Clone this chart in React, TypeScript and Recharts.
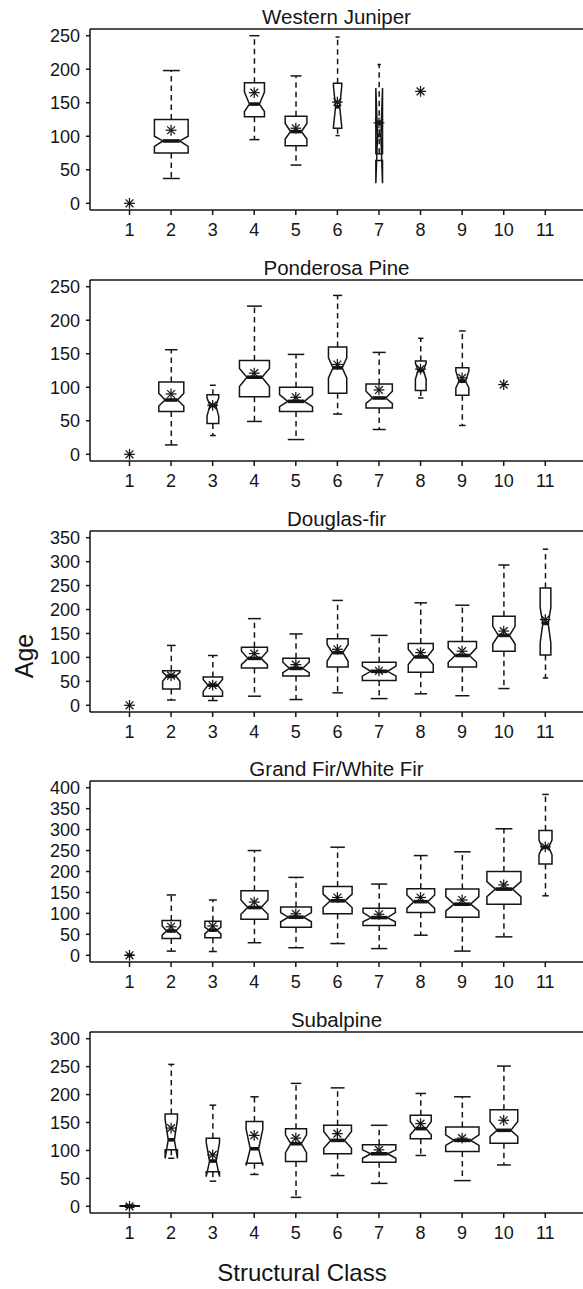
import React from 'react';
import { ComposedChart, Bar, Scatter, XAxis, YAxis, ReferenceLine } from 'recharts';

// ---------- shared axis data ----------
const CLASS_TICKS = [1, 2, 3, 4, 5, 6, 7, 8, 9, 10, 11];
const X_DOMAIN = [0.05, 11.907];

// ---------- Western Juniper ----------
const WJ_CLASS = [2, 4, 5, 6, 7];
// [low whisker, Q1, median, Q3, high whisker]
const WJ_STATS = [
  [37, 75, 93, 125, 198],
  [95, 129, 148, 180, 250],
  [57, 86, 107, 130, 190],
  [101, 112, 144, 179, 248],
  [64, 64, 101, 74, 207],
];
const WJ_NOTCH = [[85, 100], [137, 166], [96, 119], [114, 175], [30, 172]];
const WJ_MEAN_CLASS = [1, 2, 4, 5, 6, 7, 8];
const WJ_MEAN = [0, 109, 165, 112, 151, 120, 167];
const WJ_TICKS = [0, 50, 100, 150, 200, 250];

// ---------- Ponderosa Pine ----------
const PP_CLASS = [2, 3, 4, 5, 6, 7, 8, 9];
const PP_STATS = [
  [14, 64, 81, 108, 156],
  [28, 46, 73, 89, 103],
  [49, 86, 115, 140, 221],
  [22, 64, 79, 100, 149],
  [60, 91, 129, 160, 237],
  [37, 69, 84, 105, 152],
  [84, 95, 125, 139, 173],
  [43, 88, 109, 129, 184],
];
const PP_NOTCH = [[72, 91], [57, 84], [101, 128], [71, 89], [114, 144], [76, 94], [112, 136], [99, 124]];
const PP_MEAN_CLASS = [1, 2, 3, 4, 5, 6, 7, 8, 9, 10];
const PP_MEAN = [0, 90, 73, 121, 85, 134, 96, 127, 114, 104];
const PP_TICKS = [0, 50, 100, 150, 200, 250];

// ---------- Douglas-fir ----------
const DF_CLASS = [2, 3, 4, 5, 6, 7, 8, 9, 10, 11];
const DF_STATS = [
  [11, 34, 61, 72, 125],
  [10, 19, 42, 59, 104],
  [19, 78, 98, 121, 181],
  [12, 61, 77, 98, 149],
  [26, 80, 110, 139, 219],
  [14, 52, 71, 90, 146],
  [24, 69, 101, 129, 214],
  [20, 80, 104, 133, 209],
  [35, 113, 146, 186, 293],
  [57, 105, 171, 245, 326],
];
const DF_NOTCH = [[50, 69], [29, 54], [85, 113], [68, 90], [92, 127], [61, 82], [85, 117], [90, 120], [128, 165], [130, 204]];
const DF_MEAN_CLASS = [1, 2, 3, 4, 5, 6, 7, 8, 9, 10, 11];
const DF_MEAN = [0, 62, 42, 108, 85, 117, 72, 110, 113, 155, 179];
const DF_TICKS = [0, 50, 100, 150, 200, 250, 300, 350];

// ---------- Grand Fir/White Fir ----------
const GF_CLASS = [1, 2, 3, 4, 5, 6, 7, 8, 9, 10, 11];
const GF_STATS = [
  [0, 0, 0, 0, 1],
  [10, 40, 58, 83, 144],
  [9, 42, 60, 81, 132],
  [30, 86, 114, 154, 250],
  [18, 67, 91, 115, 186],
  [28, 99, 130, 164, 258],
  [16, 71, 90, 112, 170],
  [48, 102, 128, 159, 238],
  [10, 91, 122, 158, 247],
  [44, 122, 158, 200, 302],
  [142, 218, 258, 298, 384],
];
const GF_NOTCH = [[0, 0], [48, 70], [51, 67], [98, 132], [80, 102], [114, 146], [80, 102], [112, 144], [106, 140], [140, 176], [240, 275]];
const GF_MEAN_CLASS = [1, 2, 3, 4, 5, 6, 7, 8, 9, 10, 11];
const GF_MEAN = [0, 68, 70, 127, 99, 138, 98, 138, 132, 168, 259];
const GF_TICKS = [0, 50, 100, 150, 200, 250, 300, 350, 400];

// ---------- Subalpine ----------
const SA_CLASS = [1, 2, 3, 4, 5, 6, 7, 8, 9, 10];
const SA_STATS = [
  [0, 0, 0, 1, 2],
  [86, 101, 119, 165, 254],
  [45, 62, 81, 122, 181],
  [57, 77, 103, 152, 196],
  [16, 80, 112, 139, 220],
  [55, 94, 118, 145, 212],
  [41, 79, 94, 110, 145],
  [91, 121, 139, 163, 202],
  [46, 98, 118, 142, 196],
  [74, 113, 136, 173, 251],
];
const SA_NOTCH = [[0, 0], [86, 155], [53, 114], [73, 138], [96, 128], [104, 134], [86, 101], [128, 152], [109, 128], [125, 152]];
const SA_MEAN_CLASS = [1, 2, 3, 4, 5, 6, 7, 8, 9, 10];
const SA_MEAN = [0, 140, 92, 127, 122, 130, 101, 148, 122, 154];
const SA_TICKS = [0, 50, 100, 150, 200, 250, 300];

// ---------- styles (box widths in px, varying with sample size) ----------
const WJ_BOX_PX = [33.7, 20, 21.7, 8.3, 6.7];
const PP_BOX_PX = [25, 11.7, 30, 33, 18.3, 26.3, 10.7, 13];
const DF_BOX_PX = [17.3, 19.3, 26, 26.3, 21, 33.7, 25, 28.3, 22.3, 10.7];
const GF_BOX_PX = [9, 18.3, 16, 27, 30.7, 29, 32.3, 27.7, 33, 34, 13];
const SA_BOX_PX = [19, 12.3, 13.3, 16.7, 21, 27.7, 33.3, 21, 33.3, 27.7];

const FONT = '"Liberation Sans", Arial, Helvetica, sans-serif';
const INK = '#151515';
const TICK_FS = 18;
const LW = 1.5;

const PANELS = [
  { title: 'Western Juniper', cls: WJ_CLASS, stats: WJ_STATS, notch: WJ_NOTCH, meanCls: WJ_MEAN_CLASS, mean: WJ_MEAN, box: WJ_BOX_PX, ticks: WJ_TICKS, domain: [-10, 260], top: 29 },
  { title: 'Ponderosa Pine', cls: PP_CLASS, stats: PP_STATS, notch: PP_NOTCH, meanCls: PP_MEAN_CLASS, mean: PP_MEAN, box: PP_BOX_PX, ticks: PP_TICKS, domain: [-10, 260], top: 280 },
  { title: 'Douglas-fir', cls: DF_CLASS, stats: DF_STATS, notch: DF_NOTCH, meanCls: DF_MEAN_CLASS, mean: DF_MEAN, box: DF_BOX_PX, ticks: DF_TICKS, domain: [-14, 364], top: 531 },
  { title: 'Grand Fir/White Fir', cls: GF_CLASS, stats: GF_STATS, notch: GF_NOTCH, meanCls: GF_MEAN_CLASS, mean: GF_MEAN, box: GF_BOX_PX, ticks: GF_TICKS, domain: [-16, 416], top: 781 },
  { title: 'Subalpine', cls: SA_CLASS, stats: SA_STATS, notch: SA_NOTCH, meanCls: SA_MEAN_CLASS, mean: SA_MEAN, box: SA_BOX_PX, ticks: SA_TICKS, domain: [-12, 312], top: 1032 },
];

const MT = 35;
const PLOT_H = 181;
const XAX_H = 30;
const MB = 10;
const CH = MT + PLOT_H + XAX_H + MB;

function BoxShape(props: any) {
  const { x, y, width, height, payload } = props;
  if (x == null || y == null || !payload) return null;
  const cx = x + width / 2;
  const top = Math.min(y, y + height);
  const bot = Math.max(y, y + height);
  const { low, high, q1, med, q3, nlo, nhi, w } = payload;
  const py = (v: number) => (high === low ? top : top + ((high - v) / (high - low)) * (bot - top));
  const hw = w / 2;
  const nf = 0.5;
  const sw = hw * 0.5;
  const pts = [
    [cx - hw, py(q1)], [cx + hw, py(q1)], [cx + hw, py(nlo)], [cx + hw * nf, py(med)], [cx + hw, py(nhi)],
    [cx + hw, py(q3)], [cx - hw, py(q3)], [cx - hw, py(nhi)], [cx - hw * nf, py(med)], [cx - hw, py(nlo)],
  ].map((p) => p.join(',')).join(' ');
  return (
    <g>
      {high > q3 && <line x1={cx} x2={cx} y1={py(q3)} y2={py(high)} stroke={INK} strokeWidth={LW} strokeDasharray="5.5 4" />}
      {low < q1 && <line x1={cx} x2={cx} y1={py(q1)} y2={py(low)} stroke={INK} strokeWidth={LW} strokeDasharray="5.5 4" />}
      {high > q3 && <line x1={cx - sw} x2={cx + sw} y1={py(high)} y2={py(high)} stroke={INK} strokeWidth={LW} />}
      {low < q1 && <line x1={cx - sw} x2={cx + sw} y1={py(low)} y2={py(low)} stroke={INK} strokeWidth={LW} />}
      <polygon points={pts} fill="none" stroke={INK} strokeWidth={LW} strokeLinejoin="miter" />
      <line x1={cx - hw * nf} x2={cx + hw * nf} y1={py(med)} y2={py(med)} stroke={INK} strokeWidth={3.6} />
    </g>
  );
}

function Asterisk(props: any) {
  const { cx, cy } = props;
  if (cx == null || cy == null) return null;
  const r = 5.4;
  const d = r * 0.72;
  return (
    <g stroke={INK} strokeWidth={1.25}>
      <line x1={cx - r} x2={cx + r} y1={cy} y2={cy} />
      <line x1={cx} x2={cx} y1={cy - r} y2={cy + r} />
      <line x1={cx - d} x2={cx + d} y1={cy - d} y2={cy + d} />
      <line x1={cx - d} x2={cx + d} y1={cy + d} y2={cy - d} />
    </g>
  );
}

function Panel({ p }: { p: any }) {
  const data = p.cls.map((c: number, i: number) => {
    const [low, q1, med, q3, high] = p.stats[i];
    return { x: c, range: [low, high], low, q1, med, q3, high, nlo: p.notch[i][0], nhi: p.notch[i][1], w: p.box[i] };
  });
  const means = p.meanCls.map((c: number, i: number) => ({ x: c, y: p.mean[i] }));
  const tick = { fill: INK, fontSize: TICK_FS, fontFamily: FONT };
  return (
    <div style={{ position: 'absolute', left: 0, top: p.top - MT, width: 583, height: CH }}>
      <ComposedChart width={583} height={CH} data={data} margin={{ top: MT, right: 0, bottom: MB, left: 0 }}>
        <XAxis
          type="number"
          dataKey="x"
          domain={X_DOMAIN}
          ticks={CLASS_TICKS}
          interval={0}
          allowDataOverflow
          height={XAX_H}
          tickSize={5}
          tickMargin={8}
          stroke={INK}
          strokeWidth={LW}
          tick={tick}
        />
        <YAxis
          type="number"
          domain={p.domain}
          ticks={p.ticks}
          interval={0}
          allowDataOverflow
          width={90}
          tickSize={4}
          tickMargin={6}
          stroke={INK}
          strokeWidth={LW}
          tick={tick}
        />
        <ReferenceLine y={p.domain[1]} stroke={INK} strokeWidth={LW} />
        <Bar dataKey="range" barSize={10} shape={BoxShape} isAnimationActive={false} />
        <Scatter data={means} dataKey="y" shape={Asterisk} isAnimationActive={false} />
      </ComposedChart>
    </div>
  );
}

export default function App() {
  return (
    <div style={{ position: 'absolute', left: 0, top: 0, width: 583, height: 1289, background: '#fff', overflow: 'hidden' }}>
      {PANELS.map((p) => (
        <Panel key={p.title} p={p} />
      ))}
      <svg width={583} height={1289} style={{ position: 'absolute', left: 0, top: 0, pointerEvents: 'none' }}>
        {PANELS.map((p) => (
          <text key={p.title} x={336.5} y={p.top - 5} textAnchor="middle" fontFamily={FONT} fontSize={20.5} fill={INK}>
            {p.title}
          </text>
        ))}
        <text x={33} y={656} transform="rotate(-90 33 656)" textAnchor="middle" fontFamily={FONT} fontSize={25} fill={INK}>
          Age
        </text>
        <text x={302} y={1281} textAnchor="middle" fontFamily={FONT} fontSize={24} fill={INK}>
          Structural Class
        </text>
      </svg>
    </div>
  );
}
